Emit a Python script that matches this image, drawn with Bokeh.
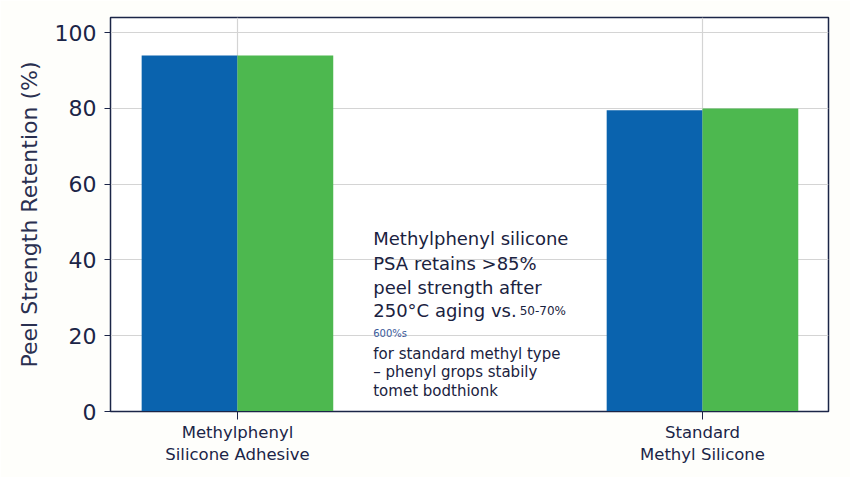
from bokeh.plotting import figure
from bokeh.models import Range1d, FixedTicker, Label
from bokeh.embed import file_html
from bokeh.resources import INLINE

# Peel strength retention after 250°C aging, two adhesive types, two series each
categories = ["Methylphenyl\nSilicone Adhesive", "Standard\nMethyl Silicone"]
series_a = [94, 79.5]   # blue bars
series_b = [94, 80]     # green bars
y_ticks = [0, 20, 40, 60, 80, 100]

NAVY = "#1b2547"
BLUE = "#0a63ae"
GREEN = "#4db84f"

xs = list(range(len(categories)))
bar_w = 0.206

p = figure(width=850, height=477, output_backend="svg", toolbar_location=None,
           x_range=Range1d(-0.273, 1.271), y_range=Range1d(0, 104),
           min_border_left=110, min_border_right=22, min_border_top=17,
           min_border_bottom=66)
p.background_fill_color = "white"
p.border_fill_color = "#fefefb"
p.outline_line_color = NAVY
p.outline_line_width = 1.5

p.vbar(x=[x - bar_w / 2 for x in xs], top=series_a, width=bar_w,
       fill_color=BLUE, line_color=None)
p.vbar(x=[x + bar_w / 2 for x in xs], top=series_b, width=bar_w,
       fill_color=GREEN, line_color=None)

# axes
p.xaxis.ticker = FixedTicker(ticks=xs)
p.xaxis.major_label_overrides = {i: c for i, c in enumerate(categories)}
p.xaxis.major_label_text_font = "DejaVu Sans"
p.xaxis.major_label_text_font_size = "16.5px"
p.xaxis.major_label_text_color = NAVY
p.xaxis.major_tick_out = 8
p.xaxis.major_tick_in = 0
p.xaxis.minor_tick_line_color = None
p.xaxis.axis_line_color = NAVY
p.xaxis.major_tick_line_color = NAVY
p.xaxis.major_label_standoff = 3

p.yaxis.ticker = FixedTicker(ticks=y_ticks)
p.yaxis.major_label_text_font = "DejaVu Sans"
p.yaxis.major_label_text_font_size = "22px"
p.yaxis.major_label_text_color = NAVY
p.yaxis.major_tick_out = 6
p.yaxis.major_tick_in = 0
p.yaxis.major_label_standoff = 8
p.yaxis.minor_tick_line_color = None
p.yaxis.axis_line_color = NAVY
p.yaxis.major_tick_line_color = NAVY
p.yaxis.axis_label = "Peel Strength Retention (%)"
p.yaxis.axis_label_text_font = "DejaVu Sans"
p.yaxis.axis_label_text_font_size = "22px"
p.yaxis.axis_label_text_font_style = "normal"
p.yaxis.axis_label_text_color = "#2a3050"
p.yaxis.axis_label_standoff = 10

p.grid.grid_line_color = "#d4d4d4"
p.grid.grid_line_width = 1.2

# annotation block in the gap between the groups
tx = 0.292
big = [("Methylphenyl silicone", 45.6), ("PSA retains >85%", 39.0),
       ("peel strength after", 32.6), ("250°C aging vs.", 26.6)]
for t, y in big:
    p.add_layout(Label(x=tx, y=y, text=t, text_font="DejaVu Sans",
                       text_font_size="18px", text_color="#1a2240",
                       text_baseline="middle"))
p.add_layout(Label(x=0.607, y=26.4, text="50-70%", text_font="DejaVu Sans",
                   text_font_size="12px", text_color="#1a2240",
                   text_baseline="middle"))
p.add_layout(Label(x=tx, y=20.6, text="600%s", text_font="DejaVu Sans",
                   text_font_size="10px", text_color="#3a5a9a",
                   text_baseline="middle"))
small = [("for standard methyl type", 15.3), ("– phenyl grops stabily", 10.3),
         ("tomet bodthionk", 5.3)]
for t, y in small:
    p.add_layout(Label(x=tx, y=y, text=t, text_font="DejaVu Sans",
                       text_font_size="15px", text_color="#1a2240",
                       text_baseline="middle"))

open("out.html", "w").write(file_html(p, INLINE))
